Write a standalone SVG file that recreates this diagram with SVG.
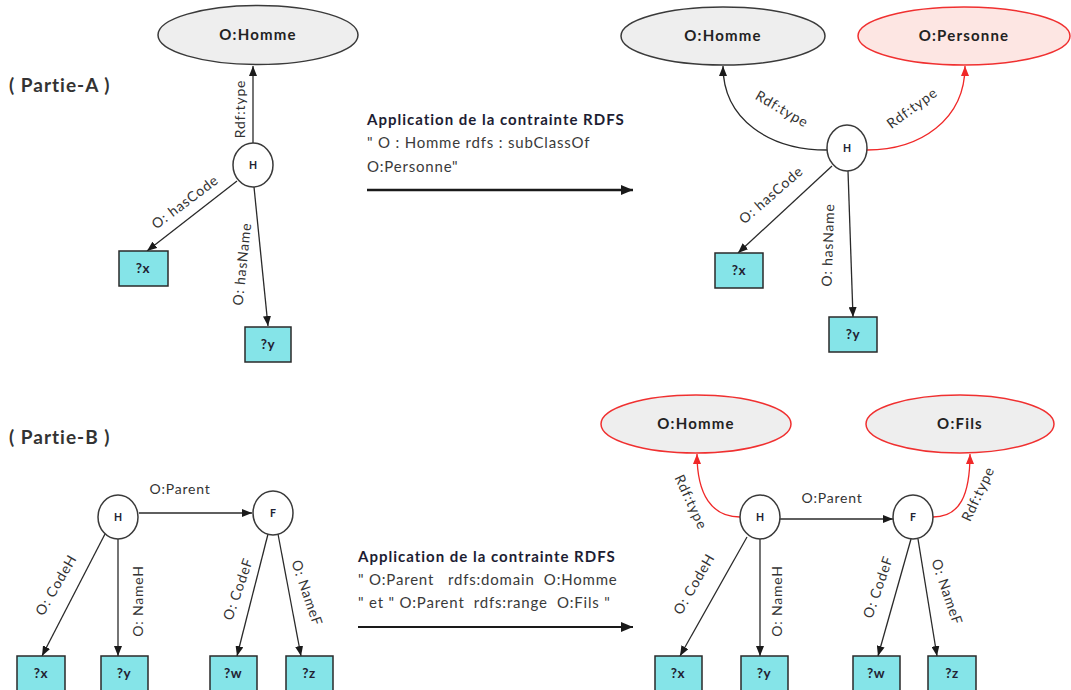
<svg xmlns="http://www.w3.org/2000/svg" width="1071" height="690" viewBox="0 0 1071 690">
  <style>
    text { font-family: Lato, "Open Sans", "Liberation Sans", sans-serif; fill: #2b2b2b; }
    .part { font-size: 19px; font-weight: bold; fill: #333; letter-spacing: 1px; }
    .cls { font-size: 15px; font-weight: bold; text-anchor: middle; fill: #222; letter-spacing: 1.2px; }
    .res { font-size: 10.5px; font-weight: bold; text-anchor: middle; fill: #223; }
    .var { font-size: 13.5px; font-weight: bold; text-anchor: middle; fill: #223; letter-spacing: 0.5px; }
    .lbl { font-size: 14px; text-anchor: middle; letter-spacing: 0.8px; fill: #333; }
    .rule-title { font-size: 15px; font-weight: bold; fill: #1d1d33; letter-spacing: 1px; }
    .rule { font-size: 15px; fill: #3a3a3a; letter-spacing: 0.8px; }
    .ell { fill: #eeeeee; stroke: #3a3a3a; stroke-width: 1.5; }
    .ell-red { fill: #eeeeee; stroke: #f03030; stroke-width: 1.5; }
    .ell-pink { fill: #fde6e3; stroke: #f03030; stroke-width: 1.5; }
    .circ { fill: #ffffff; stroke: #3a3a3a; stroke-width: 1.5; }
    .box { fill: #85e4e8; stroke: #2a2a2a; stroke-width: 1.5; }
    .edge { fill: none; stroke: #2a2a2a; stroke-width: 1.3; marker-end: url(#arrow); }
    .edge-red { fill: none; stroke: #f02828; stroke-width: 1.3; marker-end: url(#arrow-red); }
    .big { fill: none; stroke: #1a1a1a; stroke-width: 2.5; marker-end: url(#arrow-big); }
  </style>
  <defs>
    <marker id="arrow" markerUnits="userSpaceOnUse" markerWidth="10" markerHeight="8" refX="10" refY="4" orient="auto">
      <path d="M0,0 L10,4 L0,8 z" fill="#1a1a1a"/>
    </marker>
    <marker id="arrow-red" markerUnits="userSpaceOnUse" markerWidth="10" markerHeight="8" refX="10" refY="4" orient="auto">
      <path d="M0,0 L10,4 L0,8 z" fill="#f02828"/>
    </marker>
    <marker id="arrow-big" markerUnits="userSpaceOnUse" markerWidth="12" markerHeight="10" refX="12" refY="5" orient="auto">
      <path d="M0,0 L12,5 L0,10 z" fill="#1a1a1a"/>
    </marker>
  </defs>

  <rect width="1071" height="690" fill="#ffffff"/>

  <!-- section headings -->
  <text class="part" x="9" y="92">( Partie-A )</text>
  <text class="part" x="9" y="444">( Partie-B )</text>

  <!-- connectors -->
  <g id="connectors">
    <!-- part A, before -->
    <path class="edge" d="M253,143 L253,66"/>
    <path class="edge" d="M237,181 L147,251"/>
    <path class="edge" d="M254,187 L268,326"/>
    <!-- rule arrow A -->
    <path class="big" d="M367,190 L633,190"/>
    <!-- part A, after -->
    <path class="edge" d="M827,150 C770,150 723,120 723,66"/>
    <path class="edge-red" d="M867,150 C920,150 965,120 965,66"/>
    <path class="edge" d="M832,166 L738,253"/>
    <path class="edge" d="M848,171 L853,317"/>

    <!-- part B, before -->
    <path class="edge" d="M139,513 L252,513"/>
    <path class="edge" d="M105,534 L42,656"/>
    <path class="edge" d="M118,539 L118,656"/>
    <path class="edge" d="M268,534 L237,656"/>
    <path class="edge" d="M278,534 L301,656"/>
    <!-- rule arrow B -->
    <path class="big" d="M358,627 L633,627" style="stroke-width:2"/>
    <!-- part B, after -->
    <path class="edge" d="M780,519 L893,519"/>
    <path class="edge-red" d="M740,517 C712,517 697,495 697,454"/>
    <path class="edge-red" d="M933,517 C960,517 970,495 970,454"/>
    <path class="edge" d="M747,537 L680,656"/>
    <path class="edge" d="M760,539 L760,656"/>
    <path class="edge" d="M911,539 L878,656"/>
    <path class="edge" d="M918,539 L937,656"/>
  </g>

  <!-- edge labels -->
  <g id="edge-labels">
    <text class="lbl" transform="translate(240,109) rotate(-90)" dy="0.35em">Rdf:type</text>
    <text class="lbl" transform="translate(185,202) rotate(-37)" dy="0.35em">O: hasCode</text>
    <text class="lbl" transform="translate(242,264) rotate(-84)" dy="0.35em">O: hasName</text>

    <text class="lbl" transform="translate(782,109) rotate(30)" dy="0.35em">Rdf:type</text>
    <text class="lbl" transform="translate(912,108) rotate(-36)" dy="0.35em">Rdf:type</text>
    <text class="lbl" transform="translate(771,195) rotate(-41)" dy="0.35em">O: hasCode</text>
    <text class="lbl" transform="translate(828,245) rotate(-88)" dy="0.35em">O: hasName</text>

    <text class="lbl" x="180" y="494">O:Parent</text>
    <text class="lbl" transform="translate(56,585) rotate(-60)" dy="0.35em">O: CodeH</text>
    <text class="lbl" transform="translate(138,601) rotate(-90)" dy="0.35em">O: NameH</text>
    <text class="lbl" transform="translate(238,589) rotate(-71)" dy="0.35em">O: CodeF</text>
    <text class="lbl" transform="translate(307,593) rotate(71)" dy="0.35em">O: NameF</text>

    <text class="lbl" x="832" y="503">O:Parent</text>
    <text class="lbl" transform="translate(691,502) rotate(65)" dy="0.35em">Rdf:type</text>
    <text class="lbl" transform="translate(978,494) rotate(-65)" dy="0.35em">Rdf:type</text>
    <text class="lbl" transform="translate(694,584) rotate(-60)" dy="0.35em">O: CodeH</text>
    <text class="lbl" transform="translate(777,601) rotate(-90)" dy="0.35em">O: NameH</text>
    <text class="lbl" transform="translate(878,587) rotate(-71)" dy="0.35em">O: CodeF</text>
    <text class="lbl" transform="translate(947,592) rotate(71)" dy="0.35em">O: NameF</text>
  </g>

  <!-- rule descriptions -->
  <g id="rule-A">
    <text class="rule-title" x="367" y="125">Application de la contrainte RDFS</text>
    <text class="rule" x="367" y="148">" O : Homme rdfs : subClassOf</text>
    <text class="rule" x="367" y="172">O:Personne"</text>
  </g>
  <g id="rule-B">
    <text class="rule-title" x="358" y="562">Application de la contrainte RDFS</text>
    <text class="rule" x="358" y="585" xml:space="preserve">" O:Parent   rdfs:domain  O:Homme</text>
    <text class="rule" x="358" y="608" xml:space="preserve">" et " O:Parent  rdfs:range  O:Fils "</text>
  </g>

  <!-- Part A, before -->
  <g id="a1-homme"><ellipse class="ell" cx="258" cy="35" rx="100" ry="29.5"/><text class="cls" x="258" y="40">O:Homme</text></g>
  <g id="a1-h"><ellipse class="circ" cx="253" cy="165" rx="20" ry="22"/><text class="res" x="253" y="169">H</text></g>
  <g id="a1-x"><rect class="box" x="119" y="251" width="49" height="35"/><text class="var" x="143" y="273">?x</text></g>
  <g id="a1-y"><rect class="box" x="245" y="327" width="46" height="35"/><text class="var" x="268" y="349">?y</text></g>

  <!-- Part A, after -->
  <g id="a2-homme"><ellipse class="ell" cx="723" cy="36" rx="102" ry="29"/><text class="cls" x="723" y="41">O:Homme</text></g>
  <g id="a2-personne"><ellipse class="ell-pink" cx="964" cy="36" rx="106" ry="29"/><text class="cls" x="964" y="41">O:Personne</text></g>
  <g id="a2-h"><ellipse class="circ" cx="847" cy="148" rx="20" ry="23"/><text class="res" x="847" y="152">H</text></g>
  <g id="a2-x"><rect class="box" x="715" y="253" width="48" height="35"/><text class="var" x="739" y="275">?x</text></g>
  <g id="a2-y"><rect class="box" x="829" y="317" width="48" height="35"/><text class="var" x="853" y="339">?y</text></g>

  <!-- Part B, before -->
  <g id="b1-h"><ellipse class="circ" cx="118" cy="517" rx="20" ry="22"/><text class="res" x="118" y="521">H</text></g>
  <g id="b1-f"><ellipse class="circ" cx="273" cy="513" rx="20" ry="22"/><text class="res" x="273" y="517">F</text></g>
  <g id="b1-x"><rect class="box" x="17" y="656" width="48" height="40"/><text class="var" x="41" y="678">?x</text></g>
  <g id="b1-y"><rect class="box" x="101" y="656" width="47" height="40"/><text class="var" x="124" y="678">?y</text></g>
  <g id="b1-w"><rect class="box" x="210" y="656" width="47" height="40"/><text class="var" x="233" y="678">?w</text></g>
  <g id="b1-z"><rect class="box" x="286" y="656" width="47" height="40"/><text class="var" x="309" y="678">?z</text></g>

  <!-- Part B, after -->
  <g id="b2-homme"><ellipse class="ell-red" cx="696" cy="424" rx="95" ry="29"/><text class="cls" x="696" y="429">O:Homme</text></g>
  <g id="b2-fils"><ellipse class="ell-red" cx="960" cy="424" rx="94" ry="29"/><text class="cls" x="960" y="429">O:Fils</text></g>
  <g id="b2-h"><ellipse class="circ" cx="760" cy="517" rx="20" ry="22"/><text class="res" x="760" y="521">H</text></g>
  <g id="b2-f"><ellipse class="circ" cx="913" cy="517" rx="20" ry="22"/><text class="res" x="913" y="521">F</text></g>
  <g id="b2-x"><rect class="box" x="655" y="656" width="47" height="40"/><text class="var" x="678" y="678">?x</text></g>
  <g id="b2-y"><rect class="box" x="741" y="656" width="47" height="40"/><text class="var" x="764" y="678">?y</text></g>
  <g id="b2-w"><rect class="box" x="853" y="656" width="47" height="40"/><text class="var" x="876" y="678">?w</text></g>
  <g id="b2-z"><rect class="box" x="928" y="656" width="48" height="40"/><text class="var" x="952" y="678">?z</text></g>
</svg>
